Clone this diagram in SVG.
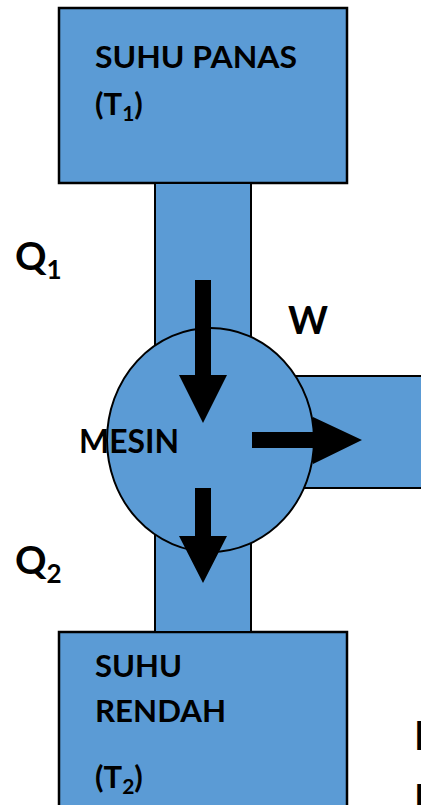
<svg xmlns="http://www.w3.org/2000/svg" width="421" height="805" viewBox="0 0 421 805">
<style>
.box{fill:#5B9BD5;stroke:#000;stroke-width:2.5}
.pipe{fill:#5B9BD5;stroke:#000;stroke-width:2}
.t{font-family:Lato,"Open Sans","Liberation Sans",sans-serif;font-weight:bold;fill:#000}
.arr{fill:#000}
</style>
<g id="hot">
<rect class="box" x="59" y="8" width="288" height="175"/>
<text class="t" x="95" y="68" font-size="31" textLength="202" lengthAdjust="spacingAndGlyphs">SUHU PANAS</text>
<text class="t" x="95" y="115" font-size="31">(T<tspan font-size="21" dy="6">1</tspan><tspan dy="-6">)</tspan></text>
</g>
<g id="cold">
<rect class="box" x="59" y="632" width="288" height="185"/>
<text class="t" x="95" y="677" font-size="31" textLength="87" lengthAdjust="spacingAndGlyphs">SUHU</text>
<text class="t" x="95" y="722" font-size="31" textLength="131" lengthAdjust="spacingAndGlyphs">RENDAH</text>
<text class="t" x="95" y="788" font-size="31">(T<tspan font-size="21" dy="6">2</tspan><tspan dy="-6">)</tspan></text>
</g>
<g id="connectors">
<rect class="pipe" x="155" y="183" width="96" height="200"/>
<rect class="pipe" x="155" y="500" width="96" height="132"/>
<rect class="pipe" x="260" y="376" width="170" height="112"/>
</g>
<g id="engine">
<ellipse class="pipe" cx="210.5" cy="440" rx="103.5" ry="112"/>
<text class="t" x="79" y="453" font-size="33" textLength="100" lengthAdjust="spacingAndGlyphs">MESIN</text>
</g>
<g id="arrows">
<polygon class="arr" points="195,280 211,280 211,375 227,375 203,423 179,375 195,375"/>
<polygon class="arr" points="195,488 211,488 211,536 227,536 203,583 179,536 195,536"/>
<polygon class="arr" points="252,432 313,432 313,417 362,440 313,464 313,448 252,448"/>
</g>
<g id="labels">
<text class="t" x="15" y="270" font-size="39">Q<tspan font-size="26" dy="9">1</tspan></text>
<text class="t" x="15" y="574" font-size="39">Q<tspan font-size="26" dy="9">2</tspan></text>
<text class="t" x="288" y="334" font-size="39" textLength="40" lengthAdjust="spacingAndGlyphs">W</text>
<text class="t" x="414" y="750" font-size="40">I</text>
<text class="t" x="414" y="813" font-size="40">I</text>
</g>
</svg>
